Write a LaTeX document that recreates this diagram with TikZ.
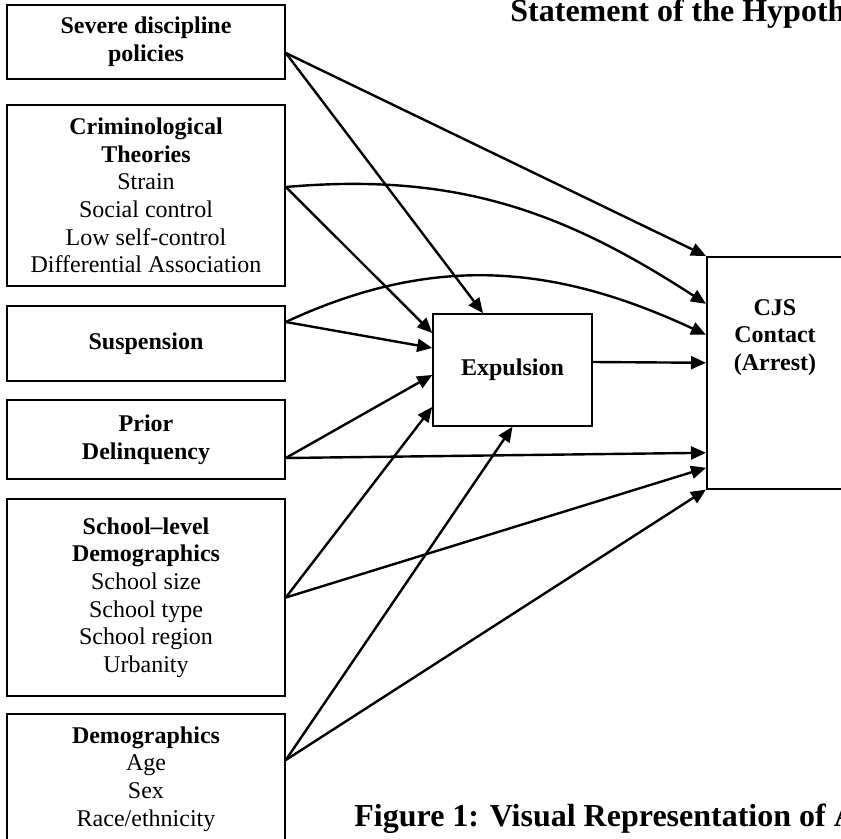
\documentclass[tikz,border=0pt]{standalone}
\usepackage{fontspec}
\setmainfont{Liberation Serif}
\usetikzlibrary{arrows.meta, positioning, calc}

\tikzset{
  box/.style={draw, line width=0.8pt, align=center, inner sep=0pt, minimum width=139pt},
  link/.style={line width=1.2pt, -{Triangle[length=7.5pt, width=6.5pt]}},
  headline/.style={font=\fontsize{16}{19}\selectfont\bfseries, inner sep=0pt},
}

\begin{document}
\begin{tikzpicture}[x=0.5pt, y=-0.5pt, font=\fontsize{12}{13.8}\selectfont]

  % --- Frame of the page ---
  \useasboundingbox (0,0) rectangle (841,839);
  \clip (0,0) rectangle (841,839);

  % --- Headings ---
  \node[headline, anchor=base west] (title) at (510,22) {Statement of the Hypoth};
  \node[headline, anchor=base west] (caption) at (354,826) {Figure 1: Visual Representation of A};

  % --- Predictors (left column) ---
  \node[box, minimum height=37pt] (sev) at (146,42)
    {\textbf{Severe discipline}\\\textbf{policies}};
  \node[box, minimum height=90.5pt] (crim) at (146,195.5)
    {\textbf{Criminological}\\\textbf{Theories}\\Strain\\Social control\\Low self-control\\Differential Association};
  \node[box, minimum height=37.5pt] (susp) at (146,343.5)
    {\textbf{Suspension}};
  \node[box, minimum height=39.5pt] (prior) at (146,439.5)
    {\textbf{Prior}\\\textbf{Delinquency}};
  \node[box, minimum height=98.5pt] (school) at (146,597.5)
    {\textbf{School–level}\\\textbf{Demographics}\\School size\\School type\\School region\\Urbanity};
  \node[box, minimum height=65pt] (demo) at (146,779)
    {\textbf{Demographics}\\Age\\Sex\\Race/ethnicity};

  % --- Mediator and outcome ---
  \node[box, minimum width=79.5pt, minimum height=56pt] (exp) at (512.5,370)
    {\textbf{Expulsion}};
  \node[box, minimum width=69pt, minimum height=116pt, anchor=north west] (cjs) at (706,256) {};
  \node[font=\fontsize{12}{13.8}\selectfont\bfseries, align=center, inner sep=0pt] (cjstext) at (775,337.5)
    {CJS\\Contact\\(Arrest)};

  % --- Paths into CJS contact ---
  \draw[link] ([yshift=-5.5pt]sev.east) -- (cjs.north west);
  \draw[link] ([yshift=4.25pt]crim.east) to[out=5, in=147] ([yshift=34.5pt]cjs.west);
  \draw[link] ([yshift=10.75pt]susp.east) to[out=25, in=155] ([yshift=19pt]cjs.west);
  \draw[link] ([yshift=4pt]exp.east) -- ([yshift=5pt]cjs.west);
  \draw[link] ([yshift=-9.25pt]prior.east) -- ([yshift=-40pt]cjs.west);
  \draw[link] (school.east) -- ([yshift=-47.5pt]cjs.west);
  \draw[link] ([yshift=9.5pt]demo.east) -- (cjs.south west);

  % --- Paths into expulsion ---
  \draw[link] ([yshift=-5.5pt]sev.east) -- ([xshift=-14.75pt]exp.north);
  \draw[link] ([yshift=4.25pt]crim.east) -- ([yshift=18.5pt]exp.west);
  \draw[link] ([yshift=10.75pt]susp.east) -- ([yshift=11pt]exp.west);
  \draw[link] ([yshift=-9.25pt]prior.east) -- ([yshift=-2.5pt]exp.west);
  \draw[link] (school.east) -- ([yshift=-18.5pt]exp.west);
  \draw[link] ([yshift=9.5pt]demo.east) -- (exp.south);

\end{tikzpicture}
\end{document}
